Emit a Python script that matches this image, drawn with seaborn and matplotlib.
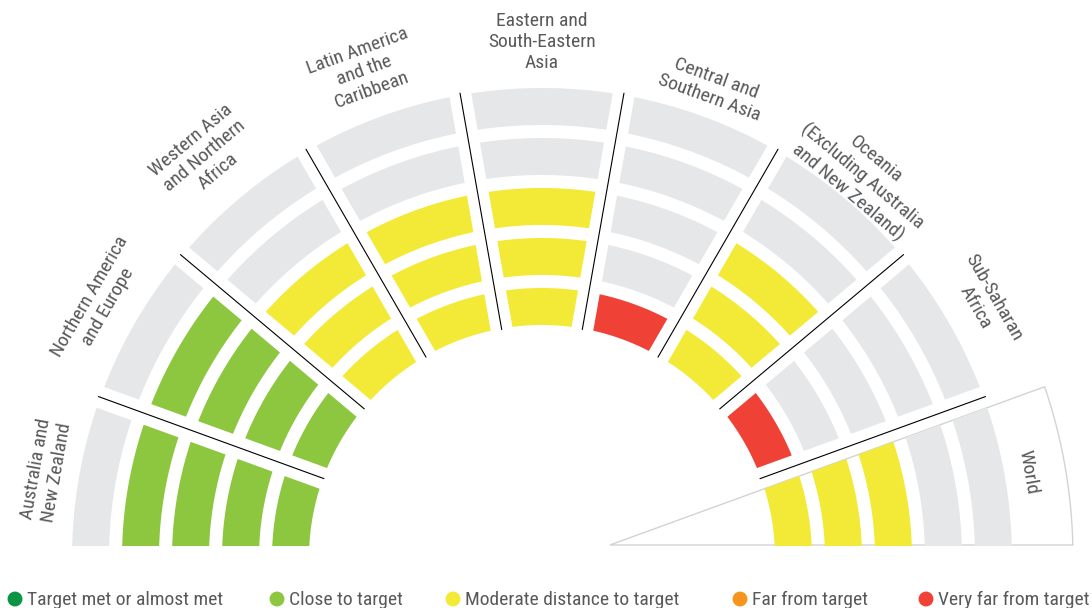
import numpy as np
import matplotlib.pyplot as plt
import seaborn as sns

# Data: regions (left to right) and how many rings are filled / status level
regions = ["Australia and\nNew Zealand", "Northern America\nand Europe",
           "Western Asia\nand Northern\nAfrica", "Latin America\nand the\nCaribbean",
           "Eastern and\nSouth-Eastern\nAsia", "Central and\nSouthern Asia",
           "Oceania\n(Excluding Australia\nand New Zealand)", "Sub-Saharan\nAfrica", "World"]
levels = [4, 4, 3, 3, 3, 1, 3, 1, 3]   # 5 = target met ... 1 = very far
status_names = ["Target met or almost met", "Close to target", "Moderate distance to target",
                "Far from target", "Very far from target"]
status_colors = ["#0B9444", "#8DC63F", "#F2EA36", "#F7941D", "#EF4136"]
empty_color = "#E6E7E8"

# Layout (pixel-like units, centre of the half circle at 0,0)
n_rings = 5
r0, ring_w, ring_pitch = 233, 37, 50
gap = 11
sector = 180 / len(regions)
label_r = [503, 512, 525, 519, 516, 500, 498, 511, 494]
legend_x = [15, 277, 453, 740, 926]
text_col = "#58595B"

sns.set_theme(style="white")
plt.rcParams['font.family'] = ['Roboto Condensed', 'Roboto', 'DejaVu Sans']

fig = plt.figure(figsize=(10.92, 6.08), dpi=100)
ax = fig.add_axes([0, 62 / 608, 1, 546 / 608])
ax.set_xlim(-542, 550)
ax.set_ylim(12, 558)
ax.set_aspect('equal')
ax.axis('off')


def ring_poly(a0, a1, r_in, r_out, d, n=60):
    o0 = a0 + np.degrees(np.arcsin(d / r_out))
    o1 = a1 - np.degrees(np.arcsin(d / r_out))
    i0 = a0 + np.degrees(np.arcsin(d / r_in))
    i1 = a1 - np.degrees(np.arcsin(d / r_in))
    t_out = np.radians(np.linspace(o0, o1, n))
    t_in = np.radians(np.linspace(i1, i0, n))
    xs = np.r_[r_out * np.cos(t_out), r_in * np.cos(t_in)]
    ys = np.r_[r_out * np.sin(t_out), r_in * np.sin(t_in)]
    return xs, ys


# highlighted wedge behind "World"
w_hi = sector
tx = (13 + gap * np.cos(np.radians(w_hi))) / np.sin(np.radians(w_hi))
tip = (tx * np.cos(np.radians(w_hi)) + gap * np.sin(np.radians(w_hi)), 13)
R = 531
arc = np.radians(np.linspace(w_hi - np.degrees(np.arcsin(gap / R)), np.degrees(np.arcsin(13 / R)), 60))
wx = np.r_[tip[0], R * np.cos(arc), tip[0]]
wy = np.r_[tip[1], R * np.sin(arc), tip[1]]
ax.fill(wx, wy, facecolor="white", edgecolor="#D1D3D4", linewidth=1.0, zorder=1)

for i, (name, lev) in enumerate(zip(regions, levels)):
    a1 = 180 - i * sector
    a0 = a1 - sector
    col = status_colors[5 - lev]
    for k in range(n_rings):
        r_in = r0 + k * ring_pitch
        xs, ys = ring_poly(a0, a1, r_in, r_in + ring_w, gap)
        ax.fill(xs, ys, color=col if k < lev else empty_color, linewidth=0, zorder=2)
    mid = np.radians((a0 + a1) / 2)
    ax.text(label_r[i] * np.cos(mid), label_r[i] * np.sin(mid), name,
            rotation=np.degrees(mid) - 90, rotation_mode='anchor',
            ha='center', va='center', fontsize=14, color=text_col, linespacing=1.2)
    if i > 0:
        t = np.radians(a1)
        ax.plot([232 * np.cos(t), 472 * np.cos(t)], [232 * np.sin(t), 472 * np.sin(t)],
                color="black", linewidth=0.8, zorder=3)

# legend strip
ax_leg = fig.add_axes([0, 0, 1, 62 / 608])
ax_leg.set_xlim(0, 1092)
ax_leg.set_ylim(608, 546)
ax_leg.axis('off')
sns.scatterplot(x=legend_x, y=[599] * len(legend_x), hue=status_names, palette=status_colors,
                s=115, linewidth=0, legend=False, ax=ax_leg)
for x, name in zip(legend_x, status_names):
    ax_leg.text(x + 12, 605, name, va='baseline', ha='left', fontsize=14, color=text_col)

fig.savefig("out.png", dpi=100)
